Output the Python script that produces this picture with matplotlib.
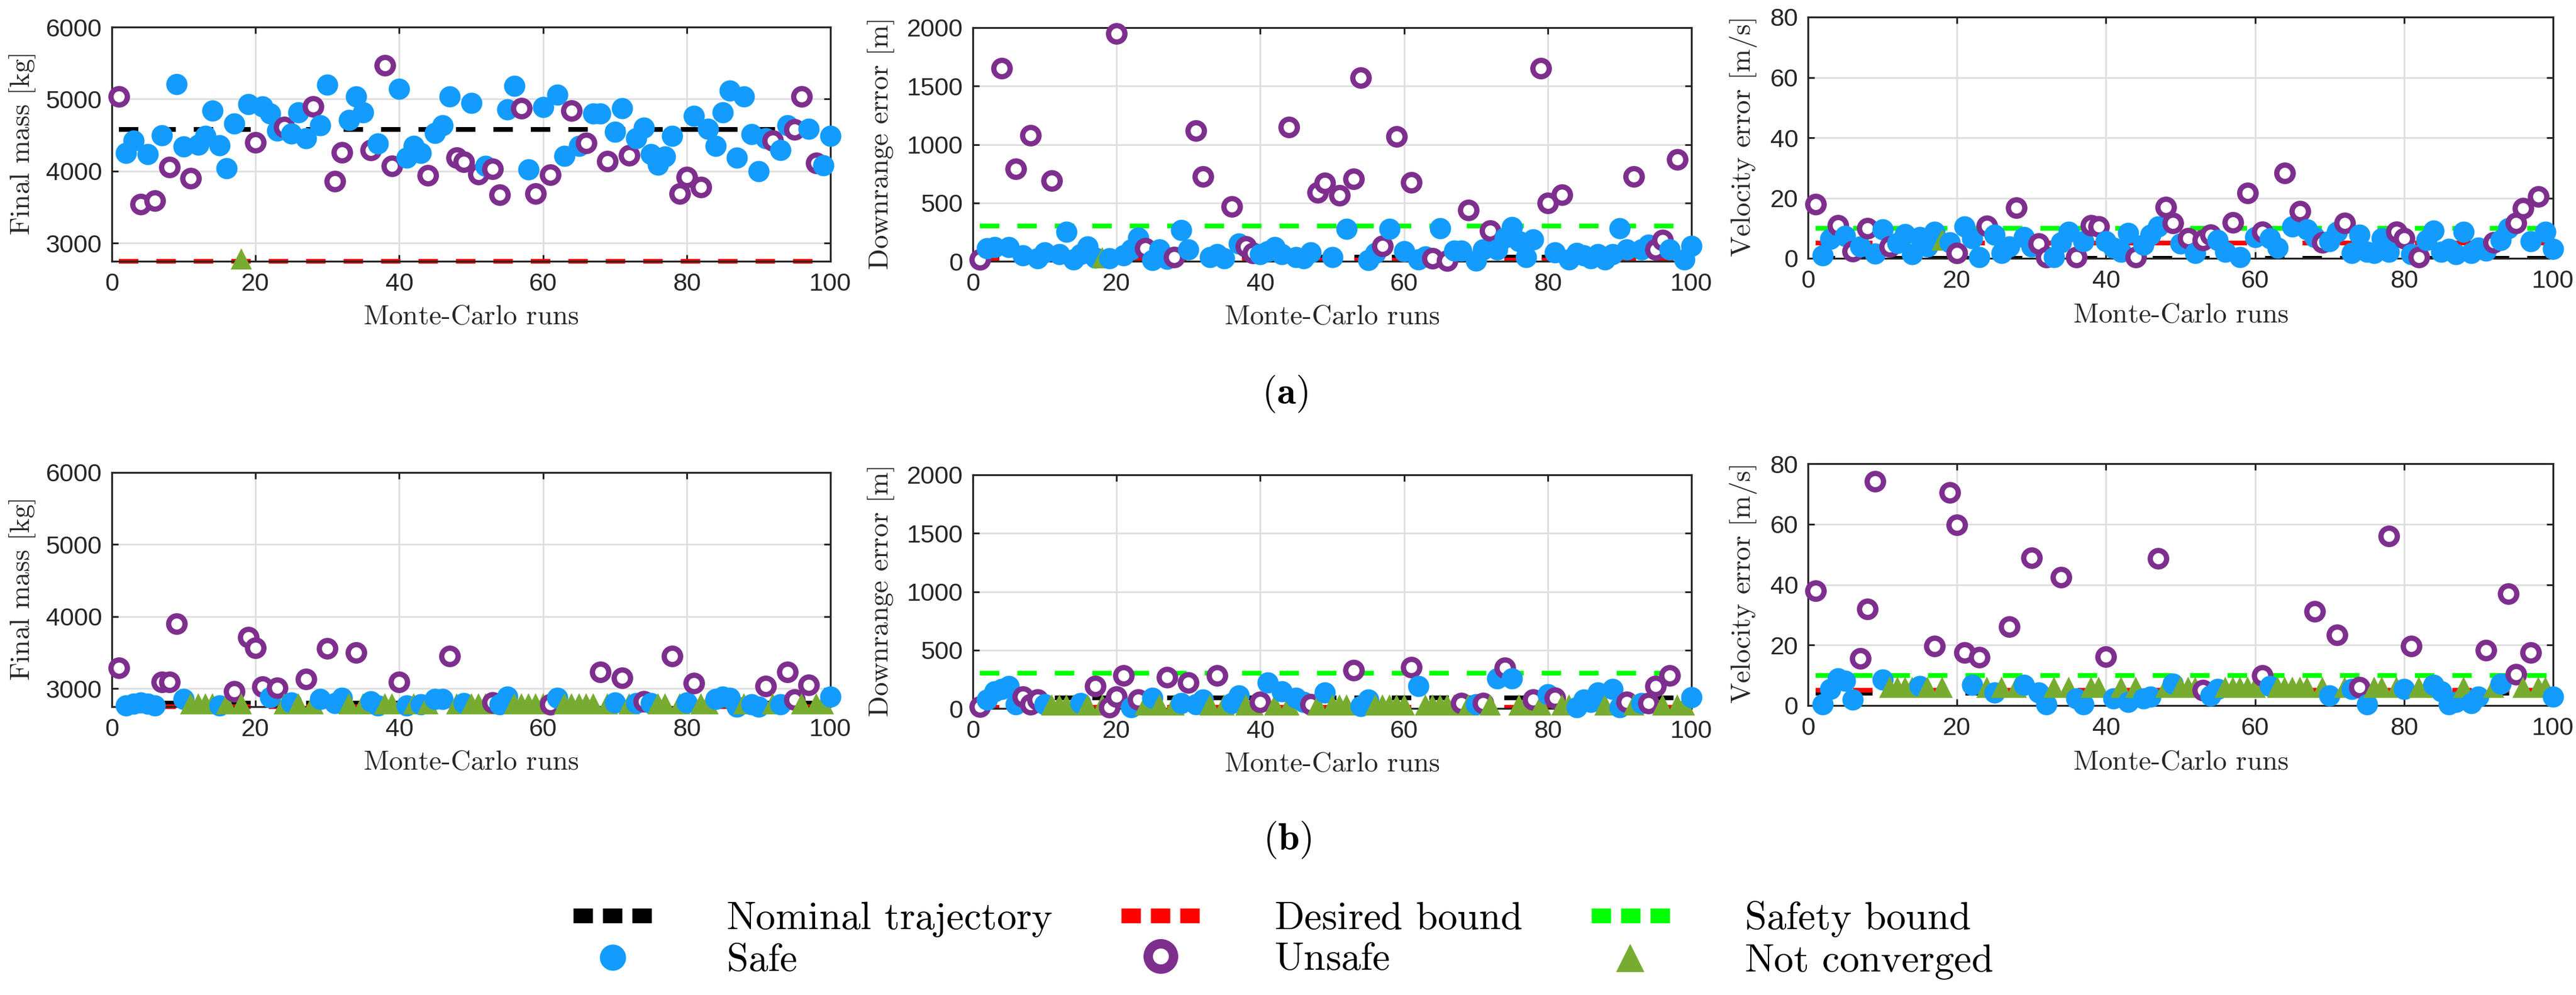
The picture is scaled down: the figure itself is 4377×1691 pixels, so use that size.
import matplotlib
matplotlib.use('Agg')
import matplotlib.pyplot as plt
from matplotlib.lines import Line2D

plt.rcParams['font.family'] = 'Liberation Sans'
plt.rcParams['mathtext.fontset'] = 'cm'

runs = list(range(1, 101))

# run classification for each row
unsafe_a = [1, 4, 6, 8, 11, 20, 24, 28, 31, 32, 36, 38, 39, 44, 48, 49, 51, 53, 54,
            57, 59, 61, 64, 66, 69, 72, 79, 80, 82, 92, 95, 96, 98]
notconv_a = [18]
unsafe_b = [1, 7, 8, 9, 17, 19, 20, 21, 23, 27, 30, 34, 40, 47, 53, 61, 68, 71, 74,
            78, 81, 91, 94, 95, 97]
notconv_b = [11, 12, 13, 14, 16, 18, 24, 26, 28, 33, 35, 38, 39, 42, 44, 48, 50, 51,
             52, 56, 57, 58, 59, 60, 63, 64, 65, 66, 67, 69, 72, 76, 77, 79, 82, 83,
             88, 92, 96, 98, 99]

mass_a = [5040, 4250, 4420, 3540, 4240, 3590, 4500, 4060, 5210, 4340,
          3900, 4370, 4490, 4840, 4360, 4040, 4660, 2785, 4930, 4400,
          4900, 4800, 4560, 4610, 4520, 4820, 4460, 4900, 4640, 5200,
          3860, 4260, 4710, 5040, 4820, 4290, 4380, 5470, 4070, 5140,
          4190, 4350, 4250, 3940, 4530, 4640, 5040, 4190, 4130, 4950,
          3960, 4070, 4030, 3670, 4860, 5180, 4870, 4020, 3690, 4890,
          3950, 5060, 4210, 4840, 4350, 4390, 4800, 4800, 4140, 4550,
          4870, 4220, 4460, 4600, 4240, 4090, 4200, 4490, 3690, 3920,
          4770, 3780, 4590, 4350, 4820, 5120, 4190, 5040, 4510, 4000,
          4460, 4420, 4290, 4640, 4580, 5040, 4590, 4110, 4080, 4490]
downrange_a = [15, 110, 120, 1650, 120, 790, 50, 1080, 25, 75,
               690, 60, 250, 15, 60, 125, 30, 30, 25, 1950,
               50, 100, 200, 110, 10, 100, 20, 35, 265, 100,
               1120, 725, 35, 60, 25, 470, 150, 125, 70, 60,
               85, 120, 60, 1150, 35, 25, 75, 590, 670, 35,
               565, 275, 705, 1570, 10, 70, 130, 275, 1070, 85,
               675, 15, 40, 25, 280, 5, 90, 90, 440, 5,
               100, 260, 100, 200, 290, 170, 35, 185, 1650, 500,
               75, 570, 15, 70, 50, 25, 60, 15, 60, 280,
               100, 725, 100, 140, 100, 180, 100, 870, 15, 130]
velocity_a = [17.9, 0.9, 6.5, 10.9, 7.5, 2.4, 4.0, 10.0, 1.5, 9.5,
              3.9, 5.0, 8.0, 1.3, 7.0, 3.9, 8.7, 6.0, 5.2, 1.7,
              10.5, 6.6, 0.4, 10.7, 7.9, 1.7, 3.9, 16.8, 7.0, 3.9,
              4.8, 0.4, 0.4, 5.2, 8.7, 0.4, 5.7, 10.9, 10.5, 5.7,
              3.5, 2.2, 8.3, 0.4, 4.4, 7.9, 10.5, 17.0, 11.8, 4.8,
              6.6, 1.7, 6.1, 7.9, 6.1, 2.2, 12.0, 0.4, 21.7, 7.0,
              8.7, 6.6, 3.5, 28.2, 10.5, 15.7, 9.6, 7.0, 5.2, 5.7,
              8.7, 11.8, 1.7, 7.9, 2.2, 1.7, 6.6, 2.2, 8.7, 6.6,
              1.3, 0.4, 6.1, 9.2, 2.2, 3.1, 1.3, 8.7, 1.7, 3.5,
              2.6, 5.2, 6.1, 10.0, 11.8, 16.6, 5.7, 20.5, 8.7, 3.1]

mass_b = [3290, 2770, 2790, 2810, 2790, 2770, 3090, 3090, 3900, 2860,
          2790, 2790, 2790, 2790, 2770, 2790, 2965, 2790, 3710, 3565,
          3030, 2880, 3015, 2790, 2810, 2790, 3135, 2790, 2860, 3555,
          2800, 2870, 2790, 3500, 2790, 2820, 2770, 2790, 2790, 3090,
          2770, 2790, 2780, 2790, 2860, 2860, 3455, 2790, 2795, 2790,
          2790, 2790, 2810, 2780, 2890, 2790, 2790, 2790, 2790, 2790,
          2780, 2875, 2790, 2790, 2790, 2790, 2790, 3230, 2790, 2810,
          3150, 2790, 2800, 2825, 2795, 2790, 2790, 3455, 2790, 2810,
          3080, 2790, 2790, 2860, 2890, 2875, 2750, 2790, 2780, 2750,
          3035, 2790, 2780, 3230, 2850, 2790, 3050, 2790, 2790, 2890]
downrange_b = [16, 78, 146, 168, 190, 34, 101, 34, 78, 34,
               29, 29, 29, 29, 45, 29, 190, 29, 11, 101,
               280, 11, 78, 29, 90, 29, 269, 29, 45, 224,
               34, 78, 29, 280, 29, 45, 112, 29, 29, 56,
               224, 29, 146, 29, 90, 56, 34, 29, 135, 29,
               29, 29, 325, 22, 78, 29, 29, 29, 29, 29,
               352, 190, 29, 29, 29, 29, 29, 45, 29, 34,
               45, 29, 258, 348, 258, 29, 29, 78, 29, 123,
               90, 29, 29, 11, 78, 56, 135, 29, 168, 11,
               56, 29, 45, 45, 190, 29, 280, 29, 29, 96]
velocity_b = [38.0, 0.3, 5.5, 9.0, 8.1, 2.0, 15.5, 31.9, 74.1, 8.6,
              6.0, 6.0, 6.0, 6.0, 6.4, 6.0, 19.7, 6.0, 70.4, 59.8,
              17.6, 6.8, 16.0, 6.0, 4.2, 6.0, 26.0, 6.0, 6.8, 48.9,
              4.2, 0.3, 6.0, 42.4, 6.0, 2.4, 0.3, 6.0, 6.0, 16.2,
              2.4, 6.0, 1.1, 6.0, 2.4, 2.9, 48.6, 6.0, 7.2, 6.0,
              6.0, 6.0, 5.1, 3.3, 5.5, 6.0, 6.0, 6.0, 6.0, 6.0,
              9.9, 6.4, 6.0, 6.0, 6.0, 6.0, 6.0, 31.1, 6.0, 3.3,
              23.4, 6.0, 5.5, 6.1, 0.3, 6.0, 6.0, 56.0, 6.0, 5.5,
              19.7, 6.0, 6.0, 6.8, 4.6, 0.3, 1.1, 6.0, 0.7, 2.9,
              18.2, 6.0, 7.2, 36.9, 10.3, 6.0, 17.6, 6.0, 6.0, 2.9]

# reference lines (row a, row b)
nominal_mass = [4580, 2800]
nominal_downrange = [35, 90]
nominal_velocity = [0, 4]
desired_mass = 2750
desired_downrange = 10
desired_velocity = 5
safety_downrange = 300
safety_velocity = 10

BLUE = '#139cfe'
PURPLE = '#7e2f8e'
OLIVE = '#77ac30'
DARK = '#262626'
W, H = 4377, 1691


def px_box(left, right, top, bottom):
    return [left / W, 1 - bottom / H, (right - left) / W, (bottom - top) / H]


def tex(s):
    return r'$\text{' + s + '}$'


def draw_panel(box, values, unsafe, notconv, ylim, yticks, ylabel, ylab_x,
               xlab_off, nominal, desired, safety=None):
    ax = fig.add_axes(box)
    xs = [runs[0], runs[-1]]
    dash = (0, (4.1, 3.8))
    # nominal line is clipped so it hides under the axis when it sits at 0
    ax.plot(xs, [nominal] * 2, color='black', lw=5.8, ls=dash,
            dash_capstyle='butt')
    ax.plot(xs, [desired] * 2, color='#ff0000', lw=5.8, ls=dash, clip_on=False,
            dash_capstyle='butt')
    if safety is not None:
        ax.plot(xs, [safety] * 2, color='#00ff00', lw=5.8, ls=dash, clip_on=False,
                dash_capstyle='butt')
    for r, v in zip(runs, values):
        if r in notconv:
            ax.plot(r, v, ls='none', marker='^', ms=26, mfc=OLIVE, mew=0,
                    clip_on=False, zorder=3)
        elif r in unsafe:
            ax.plot(r, v, ls='none', marker='o', ms=20, mfc='white', mec=PURPLE,
                    mew=6.5, clip_on=False, zorder=3)
        else:
            ax.plot(r, v, ls='none', marker='o', ms=26, mfc=BLUE, mew=0,
                    clip_on=False, zorder=3)
    ax.set_xlim(0, 100)
    ax.set_ylim(*ylim)
    ax.set_xticks([0, 20, 40, 60, 80, 100])
    ax.set_yticks(yticks)
    ax.grid(True, color='#dedede', lw=2.0)
    ax.set_axisbelow(True)
    for sp in ax.spines.values():
        sp.set_color(DARK)
        sp.set_linewidth(2.3)
    ax.tick_params(direction='in', length=8, width=2.2, colors=DARK,
                   labelsize=31, top=True, right=True)
    ax.tick_params(axis='x', pad=14)
    ax.tick_params(axis='y', pad=12)
    ax.set_xlabel(tex('Monte-Carlo runs'), fontsize=34, color=DARK)
    ax.xaxis.set_label_coords(0.5, -xlab_off)
    ax.xaxis.label.set_va('center')
    ax.set_ylabel(ylabel, fontsize=34, color=DARK)
    ax.yaxis.set_label_coords(ylab_x, 0.5)
    ax.yaxis.label.set_va('center')
    return ax


fig = plt.figure(figsize=(W / 100, H / 100), dpi=100)

rows = [
    (mass_a, downrange_a, velocity_a, unsafe_a, notconv_a, 0,
     [(190, 1411, 46, 444), (1653, 2874, 47, 444), (3072, 4338, 29, 439)]),
    (mass_b, downrange_b, velocity_b, unsafe_b, notconv_b, 1,
     [(190, 1411, 803, 1201), (1653, 2874, 807, 1204), (3072, 4338, 788, 1199)]),
]

for mass, down, vel, uns, nc, k, boxes in rows:
    b = boxes[0]
    draw_panel(px_box(*b), mass, uns, nc, (2750, 6000), [3000, 4000, 5000, 6000],
               tex('Final mass [kg]'), -0.125, 95 / (b[3] - b[2]),
               nominal_mass[k], desired_mass)
    b = boxes[1]
    draw_panel(px_box(*b), down, uns, nc, (0, 2000), [0, 500, 1000, 1500, 2000],
               tex('Downrange error [m]'), -0.128, 95 / (b[3] - b[2]),
               nominal_downrange[k], desired_downrange, safety_downrange)
    b = boxes[2]
    draw_panel(px_box(*b), vel, uns, nc, (0, 80), [0, 20, 40, 60, 80],
               tex('Velocity error [m/s]'), -0.087, 97 / (b[3] - b[2]),
               nominal_velocity[k], desired_velocity, safety_velocity)

fig.text(2183 / W, 1 - 670 / H, r'$(\mathbf{a})$', fontsize=47, ha='center',
         va='center')
fig.text(2187 / W, 1 - 1427 / H, r'$(\mathbf{b})$', fontsize=47, ha='center',
         va='center')

leg_dash = (0, (1.32, 0.68))
handles = [
    Line2D([], [], color='black', lw=18, ls=leg_dash, dash_capstyle='butt'),
    Line2D([], [], ls='none', marker='o', ms=32, mfc=BLUE, mew=0),
    Line2D([], [], color='#ff0000', lw=18, ls=leg_dash, dash_capstyle='butt'),
    Line2D([], [], ls='none', marker='o', ms=31, mfc='white', mec=PURPLE, mew=11.5),
    Line2D([], [], color='#00ff00', lw=18, ls=leg_dash, dash_capstyle='butt'),
    Line2D([], [], ls='none', marker='^', ms=34, mfc=OLIVE, mew=0),
]
labels = [tex('Nominal trajectory'), tex('Safe'), tex('Desired bound'),
          tex('Unsafe'), tex('Safety bound'), tex('Not converged')]
fig.legend(handles, labels, ncol=3, loc='center',
           bbox_to_anchor=(2180 / W, 1 - 1598 / H), frameon=False,
           fontsize=48, handlelength=2.0, handletextpad=1.9, columnspacing=1.75,
           labelspacing=0.1, borderpad=0)

fig.savefig('out.png', dpi=100)
